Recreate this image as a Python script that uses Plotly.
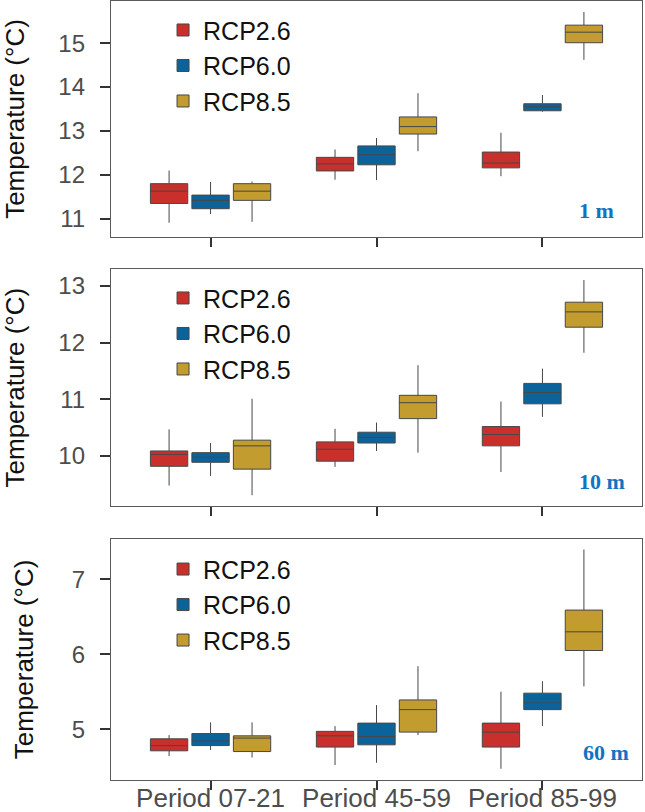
import plotly.graph_objects as go
from plotly.subplots import make_subplots

periods = ["Period 07-21", "Period 45-59", "Period 85-99"]
scenarios = ["RCP2.6", "RCP6.0", "RCP8.5"]
colors = ["#C9302C", "#0A649B", "#C29C2E"]
depths = ["1 m", "10 m", "60 m"]

# box stats per period: [lower whisker, q1, median, q3, upper whisker]
rcp26_1m = [[10.91, 11.35, 11.63, 11.80, 12.10], [11.89, 12.09, 12.25, 12.40, 12.58], [11.97, 12.16, 12.27, 12.52, 12.96]]
rcp60_1m = [[11.11, 11.23, 11.42, 11.54, 11.84], [11.88, 12.23, 12.46, 12.66, 12.84], [13.44, 13.46, 13.55, 13.62, 13.82]]
rcp85_1m = [[10.93, 11.42, 11.63, 11.80, 11.85], [12.54, 12.93, 13.10, 13.32, 13.86], [14.62, 15.01, 15.25, 15.41, 15.71]]

rcp26_10m = [[9.48, 9.82, 10.03, 10.09, 10.47], [9.81, 9.91, 10.12, 10.25, 10.48], [9.72, 10.18, 10.38, 10.52, 10.96]]
rcp60_10m = [[9.65, 9.89, 9.98, 10.06, 10.23], [10.09, 10.23, 10.33, 10.42, 10.59], [10.69, 10.92, 11.12, 11.28, 11.54]]
rcp85_10m = [[9.31, 9.77, 10.18, 10.28, 11.01], [10.06, 10.66, 10.94, 11.07, 11.60], [11.82, 12.27, 12.54, 12.71, 13.10]]

rcp26_60m = [[4.64, 4.71, 4.78, 4.87, 4.92], [4.52, 4.76, 4.91, 4.97, 5.04], [4.47, 4.76, 4.96, 5.08, 5.50]]
rcp60_60m = [[4.72, 4.78, 4.84, 4.94, 5.09], [4.55, 4.79, 4.90, 5.08, 5.32], [5.04, 5.26, 5.35, 5.48, 5.64]]
rcp85_60m = [[4.62, 4.70, 4.88, 4.91, 5.09], [4.92, 4.96, 5.26, 5.39, 5.84], [5.57, 6.05, 6.30, 6.59, 7.40]]

panels = [
    [rcp26_1m, rcp60_1m, rcp85_1m],
    [rcp26_10m, rcp60_10m, rcp85_10m],
    [rcp26_60m, rcp60_60m, rcp85_60m],
]
y_ranges = [[10.585, 15.96], [9.12, 13.29], [4.32, 7.54]]
y_ticks = [[11, 12, 13, 14, 15], [10, 11, 12, 13], [5, 6, 7]]
y_domains = [[0.697, 1.0], [0.3517, 0.6556], [0.0, 0.3094]]
legend_y = [0.992, 0.648, 0.300]
label_pos = [(0.951, 0.114), (0.972, 0.105), (0.980, 0.116)]

fig = make_subplots(rows=3, cols=1)

for row, panel in enumerate(panels, start=1):
    leg = "legend" if row == 1 else f"legend{row}"
    for name, color, stats in zip(scenarios, colors, panel):
        fig.add_trace(go.Box(
            x=periods,
            lowerfence=[s[0] for s in stats],
            q1=[s[1] for s in stats],
            median=[s[2] for s in stats],
            q3=[s[3] for s in stats],
            upperfence=[s[4] for s in stats],
            name=name,
            offsetgroup=name,
            fillcolor=color,
            line=dict(color="#474747", width=1),
            whiskerwidth=0,
            boxpoints=False,
            legend=leg,
        ), row=row, col=1)

legend_style = dict(
    x=0.098, xanchor="left", yanchor="top",
    bgcolor="rgba(0,0,0,0)",
    font=dict(family="Liberation Sans", size=25, color="#111111"),
    tracegroupgap=0,
)

fig.update_layout(
    width=645, height=812,
    margin=dict(l=111, r=3, t=1, b=32),
    plot_bgcolor="white",
    paper_bgcolor="white",
    boxmode="group",
    boxgap=0.25,
    boxgroupgap=0.1,
    font=dict(family="Liberation Sans", color="#4d4d4d"),
    legend=dict(y=legend_y[0], **legend_style),
    legend2=dict(y=legend_y[1], **legend_style),
    legend3=dict(y=legend_y[2], **legend_style),
)

for row in range(1, 4):
    fig.update_xaxes(
        type="category", range=[-0.6, 2.6],
        showline=True, mirror=True, linecolor="#5a5a5a", linewidth=1.3,
        ticks="outside", ticklen=9, tickwidth=2, tickcolor="#333333",
        showgrid=False, zeroline=False, automargin=False,
        showticklabels=(row == 3),
        ticklabelstandoff=-14,
        tickfont=dict(size=26, color="#4d4d4d"),
        row=row, col=1,
    )
    fig.update_yaxes(
        domain=y_domains[row - 1],
        range=y_ranges[row - 1],
        tickvals=y_ticks[row - 1],
        showline=True, mirror=True, linecolor="#5a5a5a", linewidth=1.3,
        ticks="outside", ticklen=10, tickwidth=1.5, tickcolor="#333333",
        showgrid=False, zeroline=False, automargin=False,
        ticklabelstandoff=10,
        tickfont=dict(size=24, color="#4d4d4d"),
        title=dict(text="Temperature (°C)", standoff=30,
                   font=dict(size=26, color="#111111")),
        row=row, col=1,
    )

# depth labels inside each panel
for row, (depth, (lx, ly)) in enumerate(zip(depths, label_pos), start=1):
    suffix = "" if row == 1 else str(row)
    fig.add_annotation(
        text=f"<b>{depth}</b>",
        x=lx, y=ly, xref=f"x{suffix} domain", yref=f"y{suffix} domain",
        xanchor="right", yanchor="middle", showarrow=False,
        font=dict(family="Liberation Serif", size=22, color="#1272C4"),
    )

# drop the browser's default page margin so the figure fills the window
fig.write_html("out.html",
               config={"displayModeBar": False},
               post_script="document.body.style.margin='0';"
                           "document.body.style.overflow='hidden';")
